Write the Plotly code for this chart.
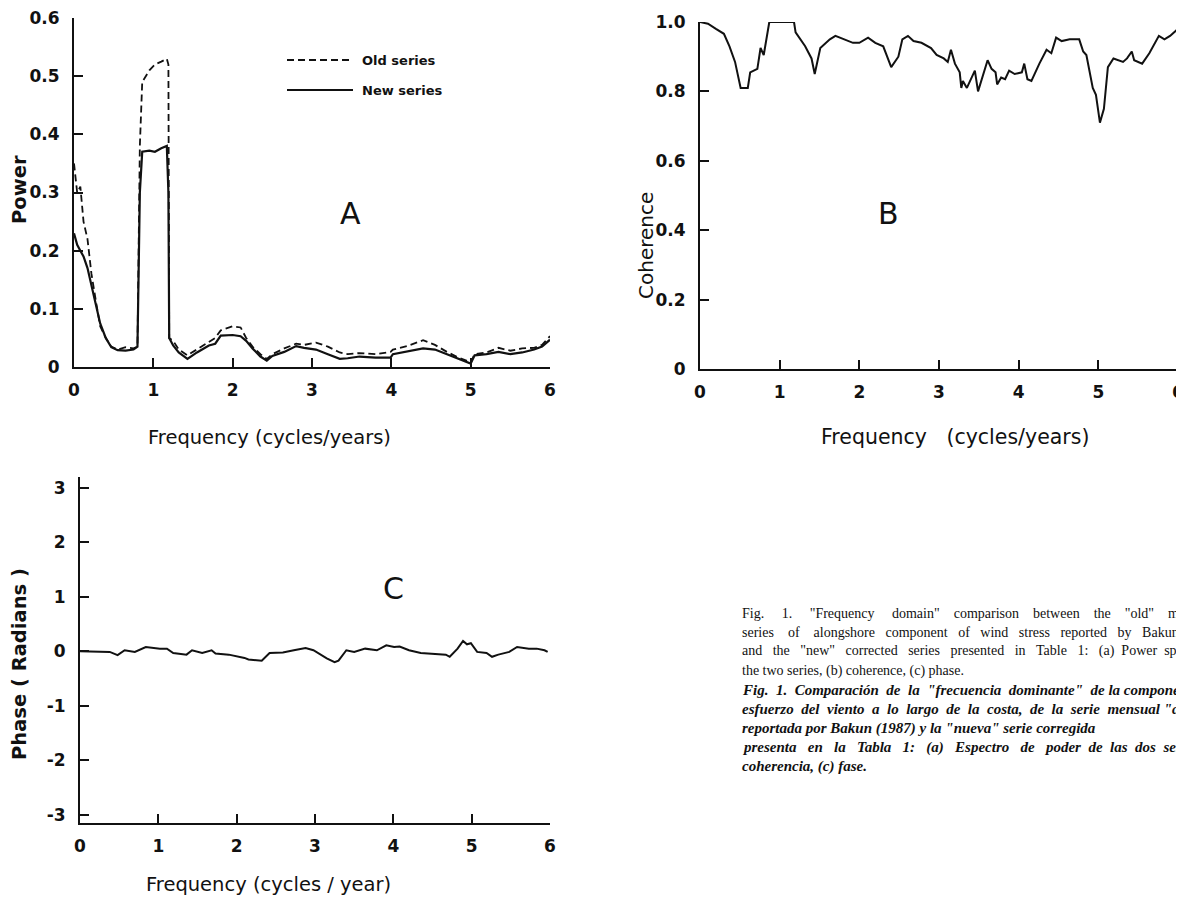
import plotly.graph_objects as go

# The page body keeps its default 8px margin, so the figure is sized to the
# remaining viewport and every position below is given in viewport pixels.
VIEW_W, VIEW_H = 1184, 903
OFF = 8
W, H = VIEW_W - OFF, VIEW_H - OFF

# ---------------- Panel A: power spectra ----------------
freq_a = [0.00, 0.04, 0.08, 0.12, 0.17, 0.22, 0.28, 0.33, 0.40, 0.47, 0.55, 0.65, 0.75, 0.80,
          0.83, 0.86, 0.95, 1.02, 1.10, 1.17, 1.19, 1.20, 1.25, 1.32, 1.43, 1.55, 1.70, 1.78,
          1.85, 2.00, 2.10, 2.17, 2.25, 2.35, 2.43, 2.50, 2.65, 2.80, 2.90, 3.05, 3.20, 3.35,
          3.45, 3.60, 3.80, 3.99, 4.02, 4.20, 4.40, 4.55, 4.70, 4.85, 5.00, 5.05, 5.20, 5.35,
          5.50, 5.65, 5.80, 5.90, 6.00]
power_new = [0.230, 0.210, 0.200, 0.190, 0.170, 0.140, 0.100, 0.075, 0.050, 0.034, 0.029, 0.028,
             0.030, 0.035, 0.300, 0.370, 0.372, 0.370, 0.376, 0.380, 0.300, 0.050, 0.037, 0.025,
             0.014, 0.025, 0.037, 0.040, 0.054, 0.055, 0.053, 0.045, 0.032, 0.018, 0.011, 0.019,
             0.026, 0.036, 0.033, 0.030, 0.022, 0.014, 0.015, 0.018, 0.016, 0.016, 0.022, 0.027,
             0.032, 0.030, 0.022, 0.013, 0.006, 0.020, 0.022, 0.026, 0.022, 0.025, 0.030, 0.035,
             0.047]
power_old = [0.350, 0.300, 0.310, 0.250, 0.220, 0.160, 0.110, 0.070, 0.050, 0.035, 0.030, 0.034,
             0.032, 0.035, 0.380, 0.490, 0.510, 0.520, 0.525, 0.530, 0.520, 0.050, 0.045, 0.030,
             0.020, 0.030, 0.042, 0.050, 0.063, 0.070, 0.068, 0.050, 0.035, 0.022, 0.014, 0.022,
             0.032, 0.040, 0.038, 0.042, 0.035, 0.025, 0.022, 0.024, 0.022, 0.026, 0.030, 0.036,
             0.046, 0.038, 0.026, 0.016, 0.008, 0.022, 0.025, 0.033, 0.028, 0.032, 0.033, 0.038,
             0.053]

# ---------------- Panel B: coherence ----------------
freq_b = [0.00, 0.10, 0.20, 0.30, 0.37, 0.44, 0.51, 0.60, 0.63, 0.72, 0.76, 0.80, 0.87, 1.18,
          1.20, 1.32, 1.40, 1.44, 1.51, 1.63, 1.70, 1.80, 1.92, 2.00, 2.11, 2.20, 2.30, 2.40,
          2.49, 2.54, 2.61, 2.68, 2.78, 2.90, 2.97, 3.06, 3.11, 3.15, 3.20, 3.26, 3.28, 3.30,
          3.35, 3.45, 3.49, 3.61, 3.66, 3.71, 3.73, 3.78, 3.83, 3.88, 3.95, 4.04, 4.07, 4.11,
          4.16, 4.26, 4.35, 4.41, 4.47, 4.54, 4.64, 4.76, 4.81, 4.85, 4.93, 4.97, 5.02, 5.07,
          5.12, 5.19, 5.31, 5.36, 5.42, 5.45, 5.55, 5.64, 5.76, 5.83, 5.90, 6.00]
coherence = [1.000, 0.995, 0.980, 0.966, 0.930, 0.885, 0.810, 0.810, 0.855, 0.865, 0.925, 0.905,
             1.000, 1.000, 0.970, 0.930, 0.895, 0.850, 0.925, 0.950, 0.960, 0.950, 0.940, 0.940,
             0.955, 0.940, 0.930, 0.870, 0.900, 0.950, 0.960, 0.945, 0.940, 0.925, 0.905, 0.895,
             0.885, 0.920, 0.880, 0.855, 0.810, 0.830, 0.810, 0.860, 0.800, 0.890, 0.865, 0.855,
             0.820, 0.840, 0.835, 0.860, 0.850, 0.855, 0.880, 0.835, 0.830, 0.880, 0.920, 0.910,
             0.955, 0.945, 0.950, 0.950, 0.915, 0.905, 0.810, 0.790, 0.710, 0.750, 0.870, 0.895,
             0.885, 0.895, 0.915, 0.890, 0.880, 0.910, 0.960, 0.950, 0.960, 0.980]

# ---------------- Panel C: phase ----------------
freq_c = [0.00, 0.38, 0.48, 0.57, 0.70, 0.84, 1.02, 1.11, 1.19, 1.36, 1.43, 1.56, 1.68, 1.73,
          1.90, 2.10, 2.15, 2.32, 2.42, 2.59, 2.73, 2.88, 2.98, 3.15, 3.25, 3.30, 3.40, 3.50,
          3.64, 3.79, 3.91, 4.01, 4.08, 4.20, 4.35, 4.50, 4.67, 4.72, 4.82, 4.89, 4.94, 4.99,
          5.07, 5.19, 5.26, 5.34, 5.48, 5.58, 5.73, 5.83, 5.93, 5.97]
phase = [0.00, -0.01, -0.07, 0.02, -0.01, 0.08, 0.05, 0.05, -0.03, -0.06, 0.02, -0.03, 0.02,
         -0.04, -0.06, -0.12, -0.15, -0.17, -0.03, -0.02, 0.02, 0.06, 0.02, -0.13, -0.20, -0.17,
         0.02, -0.01, 0.05, 0.02, 0.11, 0.08, 0.09, 0.02, -0.03, -0.04, -0.06, -0.10, 0.05, 0.19,
         0.13, 0.15, -0.01, -0.03, -0.10, -0.06, -0.01, 0.08, 0.05, 0.05, 0.02, -0.01]

# tick labels
freq_ticks = [0, 1, 2, 3, 4, 5, 6]
freq_ticktext = ["0", "1", "2", "3", "4", "5", "6"]
power_ticks = [0, 0.1, 0.2, 0.3, 0.4, 0.5, 0.6]
power_ticktext = ["0", "0.1", "0.2", "0.3", "0.4", "0.5", "0.6"]
coh_ticks = [0, 0.2, 0.4, 0.6, 0.8, 1.0]
coh_ticktext = ["0", "0.2", "0.4", "0.6", "0.8", "1.0"]
phase_ticks = [-3, -2, -1, 0, 1, 2, 3]
phase_ticktext = ["-3", "-2", "-1", "0", "1", "2", "3"]

series_names = ["Old series", "New series"]

# caption lines, as cut by the page edge
caption_lines = [
    'Fig. 1. "Frequency domain" comparison between the "old" m',
    'series of alongshore component of wind stress reported by Bakun',
    'and the "new" corrected series presented in Table 1: (a) Power sp',
    'the two series, (b) coherence, (c) phase.',
    'Fig. 1. Comparación de la "frecuencia dominante" de la compone',
    'esfuerzo del viento a lo largo de la costa, de la serie mensual "a',
    'reportada por Bakun (1987) y la "nueva" serie corregida',
    'presenta en la Tabla 1: (a) Espectro de poder de las dos ser',
    'coherencia, (c) fase.',
]
caption_italic = [False, False, False, False, True, True, True, True, True]
caption_right = [1180, 1180, 1180, None, 1180, 1180, 1098, 1180, None]

# Times-compatible advance widths (per 1000 em) for justifying caption lines
_REG = {' ': 250, '"': 408, '(': 333, ')': 333, ',': 250, '.': 250, ':': 278, '/': 278,
        'A': 722, 'B': 667, 'C': 667, 'F': 556, 'T': 611,
        'a': 444, 'b': 500, 'c': 444, 'd': 500, 'e': 444, 'f': 333, 'g': 500, 'h': 500,
        'i': 278, 'j': 278, 'k': 500, 'l': 278, 'm': 778, 'n': 500, 'o': 500, 'p': 500,
        'q': 500, 'r': 333, 's': 389, 't': 278, 'u': 500, 'v': 500, 'w': 722, 'x': 500,
        'y': 500, 'z': 444, 'ó': 500}
_BI = {' ': 250, '"': 500, '(': 333, ')': 333, ',': 250, '.': 250, ':': 333, '/': 278,
       'A': 667, 'B': 667, 'C': 667, 'F': 667, 'T': 611,
       'a': 500, 'b': 500, 'c': 444, 'd': 500, 'e': 444, 'f': 333, 'g': 500, 'h': 556,
       'i': 278, 'j': 278, 'k': 500, 'l': 278, 'm': 778, 'n': 556, 'o': 500, 'p': 500,
       'q': 500, 'r': 389, 's': 389, 't': 278, 'u': 556, 'v': 444, 'w': 667, 'x': 500,
       'y': 444, 'z': 389, 'ó': 500}

CAP_X = 740
CAP_Y0 = 613
CAP_DY = 19.2
CAP_SIZE_EN = 14
CAP_SIZE_ES = 15

INK = "#111111"
SANS = "DejaVu Sans"


def px(x):
    return (x - OFF) / W


def py(y):
    return 1 - (y - OFF) / H


def justify(line, table, size, right):
    if right is None:
        return line
    words = line.split(" ")
    gaps = len(words) - 1
    natural = sum(table.get(ch, 500) for ch in line) / 1000 * size
    extra = (right - CAP_X - 3) - natural
    n = max(0, int(extra // (0.25 * size)))
    base, rem = divmod(n, gaps)
    out = words[0]
    for i, w in enumerate(words[1:]):
        k = base + (1 if i < rem else 0)
        out += " " + "&nbsp;" * k + w
    return out


fig = go.Figure()
fig.add_trace(go.Scatter(x=freq_a, y=power_old, mode="lines", name=series_names[0],
                         line=dict(color=INK, width=1.8, dash="7px,4px"), showlegend=False,
                         xaxis="x", yaxis="y"))
fig.add_trace(go.Scatter(x=freq_a, y=power_new, mode="lines", name=series_names[1],
                         line=dict(color=INK, width=2.2), showlegend=False,
                         xaxis="x", yaxis="y"))
fig.add_trace(go.Scatter(x=freq_b, y=coherence, mode="lines", name="Coherence",
                         line=dict(color=INK, width=2), showlegend=False,
                         xaxis="x2", yaxis="y2"))
fig.add_trace(go.Scatter(x=freq_c, y=phase, mode="lines", name="Phase",
                         line=dict(color=INK, width=2), showlegend=False,
                         xaxis="x3", yaxis="y3"))

tickfont = dict(family=SANS, size=17, color=INK, weight="bold")
common = dict(showline=True, linecolor=INK, linewidth=2, ticks="inside", ticklen=9,
              tickwidth=1.5, tickcolor=INK, showgrid=False, zeroline=False,
              tickfont=tickfont, fixedrange=True, automargin=False,
              ticklabeloverflow="allow")

fig.update_layout(
    width=W, height=H,
    margin=dict(l=0, r=0, t=0, b=0, pad=0, autoexpand=False),
    paper_bgcolor="white", plot_bgcolor="white",
    showlegend=False,
    xaxis=dict(domain=[px(74), px(550)], range=[0, 6], anchor="y",
               tickvals=freq_ticks, ticktext=freq_ticktext, ticklabelstandoff=7, **common),
    yaxis=dict(domain=[py(367), py(18)], range=[0, 0.6], anchor="x",
               tickvals=power_ticks, ticktext=power_ticktext, ticklabelstandoff=9, **common),
    xaxis2=dict(domain=[px(700), px(1178)], range=[0, 6], anchor="y2",
                tickvals=freq_ticks, ticktext=freq_ticktext, ticklabelstandoff=7, **common),
    yaxis2=dict(domain=[py(369), py(22)], range=[0, 1.0], anchor="x2",
                tickvals=coh_ticks, ticktext=coh_ticktext, ticklabelstandoff=9, **common),
    xaxis3=dict(domain=[px(80), px(550)], range=[0, 6], anchor="y3",
                tickvals=freq_ticks, ticktext=freq_ticktext, ticklabelstandoff=7, **common),
    yaxis3=dict(domain=[py(823), py(477)], range=[-3.15, 3.2], anchor="x3",
                tickvals=phase_ticks, ticktext=phase_ticktext, ticklabelstandoff=9, **common),
)

# legend key in the upper part of panel A
shapes = [
    dict(type="line", xref="paper", yref="paper", x0=px(287), x1=px(353), y0=py(60), y1=py(60),
         line=dict(color=INK, width=1.8, dash="7px,4px")),
    dict(type="line", xref="paper", yref="paper", x0=px(287), x1=px(353), y0=py(90), y1=py(90),
         line=dict(color=INK, width=2.2)),
]

ann = []
for name, yy in zip(series_names, (60, 90)):
    ann.append(dict(text=name, x=px(360), y=py(yy), xref="paper", yref="paper", showarrow=False,
                    xanchor="left", yanchor="middle",
                    font=dict(family=SANS, size=13, color=INK, weight="bold")))

title_font = dict(family=SANS, size=19.5, color=INK)
# x-axis titles
ann.append(dict(text="Frequency (cycles/years)", x=px(269), y=py(437), xref="paper", yref="paper",
                showarrow=False, font=title_font, xanchor="center", yanchor="middle"))
ann.append(dict(text="Frequency&nbsp;&nbsp;&nbsp;(cycles/years)", x=px(955), y=py(437),
                xref="paper", yref="paper", showarrow=False,
                font=dict(family=SANS, size=20.5, color=INK), xanchor="center", yanchor="middle"))
ann.append(dict(text="Frequency (cycles / year)", x=px(268), y=py(884), xref="paper", yref="paper",
                showarrow=False, font=title_font, xanchor="center", yanchor="middle"))
# y-axis titles
ann.append(dict(text="Power", x=px(19), y=py(190), xref="paper", yref="paper", textangle=-90,
                showarrow=False, font=dict(family=SANS, size=19.5, color=INK, weight="bold"),
                xanchor="center", yanchor="middle"))
ann.append(dict(text="Coherence", x=px(646), y=py(246), xref="paper", yref="paper", textangle=-90,
                showarrow=False, font=dict(family=SANS, size=20, color=INK),
                xanchor="center", yanchor="middle"))
ann.append(dict(text="Phase ( Radians )", x=px(19), y=py(664), xref="paper", yref="paper",
                textangle=-90, showarrow=False,
                font=dict(family=SANS, size=19.5, color=INK, weight="bold"),
                xanchor="center", yanchor="middle"))
# panel letters
for letter, xx, yy in (("A", 350, 213), ("B", 888, 213), ("C", 393, 588)):
    ann.append(dict(text=letter, x=px(xx), y=py(yy), xref="paper", yref="paper", showarrow=False,
                    font=dict(family=SANS, size=30, color=INK), xanchor="center", yanchor="middle"))
# caption (justified lines)
for i, (line, ital, right) in enumerate(zip(caption_lines, caption_italic, caption_right)):
    if ital:
        txt = "<b><i>" + justify(line, _BI, CAP_SIZE_ES, right) + "</i></b>"
        size = CAP_SIZE_ES
    else:
        txt = justify(line, _REG, CAP_SIZE_EN, right)
        size = CAP_SIZE_EN
    ann.append(dict(text=txt, x=px(CAP_X), y=py(CAP_Y0 + i * CAP_DY), xref="paper", yref="paper",
                    showarrow=False, xanchor="left", yanchor="middle", align="left",
                    font=dict(family="Liberation Serif", size=size, color=INK)))

fig.update_layout(annotations=ann, shapes=shapes)
fig.write_html("out.html")
